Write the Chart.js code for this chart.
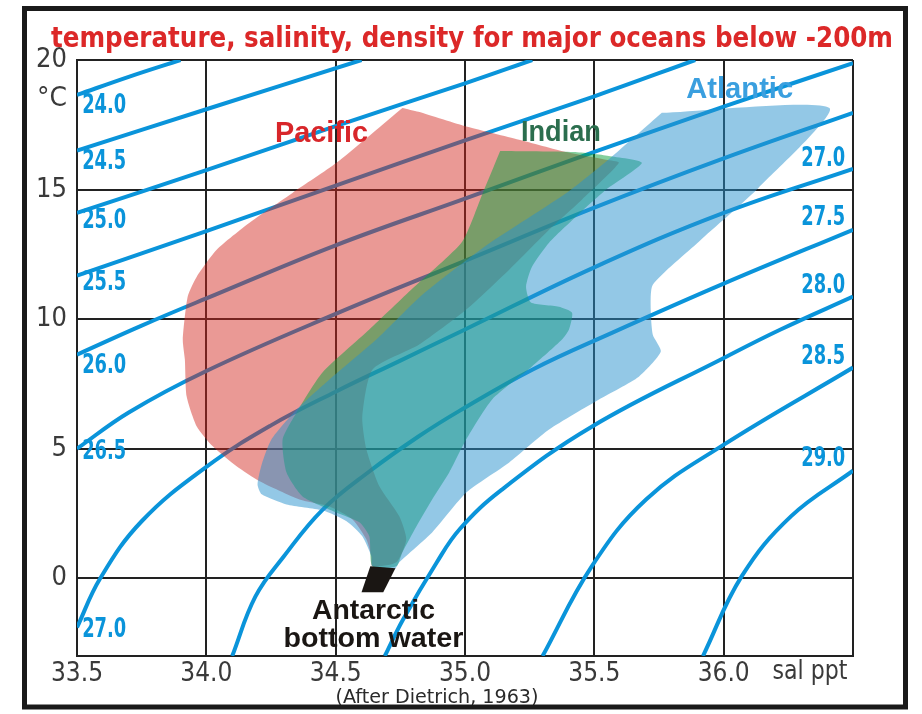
<!DOCTYPE html>
<html>
<head>
<meta charset="utf-8">
<script src="https://cdn.jsdelivr.net/npm/chart.js@4.4.0/dist/chart.umd.min.js"></script>
<style>
  html, body { margin: 0; padding: 0; background: #fff; }
  canvas { display: block; }
</style>
</head>
<body>
<canvas id="tsChart" width="922" height="714"></canvas>
<script>
// axis ticks (salinity ppt, temperature degC)
var salTicks = [33.5, 34.0, 34.5, 35.0, 35.5, 36.0];
var tempTicks = [0, 5, 10, 15, 20];

// isopycnals (sigma-t), [salinity, temperature]
var sig24_0 = [[33.5, 18.65], [33.7, 19.35], [33.9, 20.0]];
var sig24_5 = [[33.5, 16.5], [34.0, 18.1], [34.6, 20.0]];
var sig25_0 = [[33.5, 14.1], [34.0, 15.75], [34.5, 17.45], [35.0, 19.1], [35.26, 20.0]];
var sig25_5 = [[33.5, 11.68], [34.0, 13.4], [34.5, 15.15], [35.0, 16.9], [35.5, 18.6], [35.89, 20.0]];
var sig26_0 = [[33.5, 8.63], [33.75, 9.75], [34.0, 10.8], [34.5, 12.85], [35.0, 14.65], [35.5, 16.45], [36.0, 18.2], [36.5, 19.88]];
var sig26_5 = [[33.5, 5.0], [33.7, 6.4], [34.0, 8.0], [34.5, 10.2], [35.0, 12.25], [35.5, 14.3], [36.0, 16.2], [36.5, 17.96]];
var sig27_0 = [[33.5, -1.9], [33.59, 0], [33.75, 2.2], [34.0, 4.3], [34.25, 5.9], [34.5, 7.2], [34.75, 8.4], [35.0, 9.6], [35.5, 12.0], [36.0, 14.1], [36.5, 15.8]];
var sig27_5 = [[34.1, -3.0], [34.19, -0.7], [34.3, 0.85], [34.45, 2.65], [34.63, 4.12], [34.82, 5.47], [34.98, 6.47], [35.26, 8.05], [35.57, 9.48], [36.0, 11.37], [36.5, 13.45]];
var sig28_0 = [[34.69, -3.0], [34.76, -1.6], [34.89, 0.6], [34.98, 1.9], [35.14, 3.4], [35.49, 5.85], [36.01, 8.55], [36.22, 9.6], [36.5, 10.87]];
var sig28_5 = [[35.3, -3.0], [35.49, 0.46], [35.7, 3.04], [35.99, 5.09], [36.5, 8.13]];
var sig29_0 = [[35.92, -3.0], [36.07, 0.08], [36.26, 2.39], [36.5, 4.15]];

// isopycnal labels
var isoLeftNames = ["24.0", "24.5", "25.0", "25.5", "26.0", "26.5", "27.0"];
var isoLeftT = [18.23, 16.07, 13.76, 11.37, 8.17, 4.86, -2.0];
var isoRightNames = ["27.0", "27.5", "28.0", "28.5", "29.0"];
var isoRightT = [16.18, 13.91, 11.25, 8.52, 4.59];

// ocean water-mass envelopes, [salinity, temperature]
var pacific = [
  [34.758, 18.15], [34.82, 18.0], [35.009, 17.42], [35.209, 16.92], [35.39, 16.45], [35.545, 16.15], [35.595, 16.03],
  [35.452, 14.61], [35.325, 13.45], [35.171, 11.91], [35.005, 10.37], [34.823, 9.02], [34.642, 8.05],
  [34.603, 6.24], [34.619, 4.97], [34.669, 3.55], [34.746, 2.39], [34.773, 1.5], [34.735, 0.62],
  [34.642, 0.46], [34.638, 0.85], [34.619, 1.5], [34.565, 2.27], [34.476, 2.77], [34.36, 3.04],
  [34.206, 3.74], [34.117, 4.32], [34.025, 5.09], [33.963, 5.86], [33.924, 7.01], [33.917, 8.44],
  [33.909, 9.21], [33.928, 10.87], [33.963, 11.64], [34.04, 12.68], [34.167, 13.72], [34.333, 14.87],
  [34.503, 16.03], [34.758, 18.15]
];
var indian = [
  [35.136, 16.49], [35.421, 16.45], [35.556, 16.3], [35.684, 16.03], [35.545, 14.99], [35.429, 13.95],
  [35.325, 12.95], [35.259, 12.02], [35.236, 11.25], [35.255, 10.64], [35.363, 10.48], [35.414, 10.25],
  [35.402, 9.6], [35.375, 9.21], [35.259, 8.17], [35.105, 6.9], [35.005, 5.36], [34.939, 4.08],
  [34.873, 3.04], [34.812, 2.0], [34.758, 1.0], [34.735, 0.46], [34.642, 0.46], [34.63, 1.62],
  [34.592, 2.16], [34.503, 2.54], [34.372, 3.16], [34.31, 4.08], [34.295, 5.36], [34.349, 6.4],
  [34.449, 7.94], [34.63, 9.6], [34.8, 11.21], [34.989, 12.99], [35.066, 14.8], [35.136, 16.49]
];
var atlantic = [
  [35.761, 17.96], [36.409, 18.15], [36.135, 15.07], [35.904, 12.99], [35.726, 11.33], [35.718, 10.37],
  [35.726, 9.4], [35.757, 8.75], [35.672, 7.78], [35.518, 6.9], [35.325, 5.74], [35.171, 4.47],
  [35.005, 3.31], [34.873, 1.77], [34.746, 0.62], [34.727, 0.35], [34.642, 0.46], [34.638, 0.85],
  [34.603, 1.62], [34.542, 2.2], [34.449, 2.62], [34.31, 2.85], [34.214, 3.24], [34.198, 3.62],
  [34.214, 4.39], [34.252, 5.36], [34.349, 6.51], [34.476, 7.67], [34.657, 9.21], [34.835, 10.94],
  [35.086, 12.87], [35.398, 14.91], [35.545, 16.07], [35.761, 17.96]
];
var bottomWater = [[34.634, 0.46], [34.731, 0.39], [34.684, -0.54], [34.6, -0.54]];

// label anchors
var oceanNames = ["Pacific", "Indian", "Atlantic"];
var oceanS = [34.445, 35.371, 36.062];
var oceanT = [17.15, 17.19, 18.84];
var abwLines = ["Antarctic", "bottom water"];
var abwS = 34.646;
var abwT = [-1.27, -2.35];

var narrow = "'Liberation Sans Narrow', 'DejaVu Sans Condensed', 'Liberation Sans', sans-serif";
var wide = "'Liberation Sans', Arial, sans-serif";
var isoBlue = "#0a94da";

function pts(arr) {
    return arr.map(function (p) { return { x: p[0], y: p[1] }; });
}

// draw a text squeezed/stretched to a given width
function fitText(ctx, txt, x, y, w, font, color, align) {
    ctx.save();
    ctx.font = font;
    ctx.fillStyle = color;
    ctx.textBaseline = "middle";
    ctx.textAlign = "left";
    var m = ctx.measureText(txt).width;
    var x0 = align === "left" ? x : (align === "right" ? x - w : x - w / 2);
    ctx.translate(x0, y);
    ctx.scale(w / m, 1);
    ctx.fillText(txt, 0, 0);
    ctx.restore();
}

var datasets = [];
[sig24_0, sig24_5, sig25_0, sig25_5, sig26_0, sig26_5, sig27_0, sig27_5, sig28_0, sig28_5, sig29_0].forEach(function (c) {
    datasets.push({
        data: pts(c),
        borderColor: isoBlue,
        borderWidth: 4,
        pointRadius: 0,
        fill: false,
        tension: 0.4,
        order: 10
    });
});

function shape(arr, color, order, tension) {
    return {
        data: pts(arr),
        backgroundColor: color,
        borderColor: "rgba(0,0,0,0)",
        borderWidth: 0,
        pointRadius: 0,
        tension: tension,
        fill: "shape",
        order: order
    };
}
datasets.push(shape(pacific, "rgba(210,38,30,0.47)", 3, 0.2));
datasets.push(shape(indian, "rgba(12,161,63,0.51)", 2, 0.2));
datasets.push(shape(atlantic, "rgba(39,145,205,0.5)", 1, 0.2));
datasets.push(shape(bottomWater, "#1a1613", 0, 0));

var decor = {
    id: "decor",
    beforeDraw: function (chart) {
        var ctx = chart.ctx;
        ctx.save();
        ctx.fillStyle = "#fff";
        ctx.fillRect(0, 0, chart.width, chart.height);
        ctx.restore();
    },
    afterDatasetsDraw: function (chart) {
        var ctx = chart.ctx;
        var xs = chart.scales.x, ys = chart.scales.y;

        // sigma-t labels
        var isoFont = "bold 26px " + narrow;
        isoLeftNames.forEach(function (t, i) {
            fitText(ctx, t, xs.getPixelForValue(33.52), ys.getPixelForValue(isoLeftT[i]), 44, isoFont, isoBlue, "left");
        });
        isoRightNames.forEach(function (t, i) {
            fitText(ctx, t, xs.getPixelForValue(36.47), ys.getPixelForValue(isoRightT[i]), 44, isoFont, isoBlue, "right");
        });

        // ocean names
        var oceanColors = ["#d8262a", "#2b6e4e", "#3a9fdf"];
        var oceanW = [93, 80, 107];
        oceanNames.forEach(function (t, i) {
            fitText(ctx, t, xs.getPixelForValue(oceanS[i]), ys.getPixelForValue(oceanT[i]), oceanW[i], "bold 29px " + wide, oceanColors[i], "center");
        });
        var abwW = [123, 180];
        abwLines.forEach(function (t, i) {
            fitText(ctx, t, xs.getPixelForValue(abwS), ys.getPixelForValue(abwT[i]), abwW[i], "bold 28px " + wide, "#1a1613", "center");
        });
    },
    afterDraw: function (chart) {
        var ctx = chart.ctx;
        var a = chart.chartArea;

        // title
        fitText(ctx, "temperature, salinity, density for major oceans below -200m", 472, 40, 842, "bold 28px " + narrow, "#dc2828", "center");

        // unit labels
        fitText(ctx, "\u00B0C", a.left - 10, 99, 30, "27px " + narrow, "#3a3a3a", "right");
        fitText(ctx, "sal ppt", 810, a.bottom + 16, 75, "27px " + narrow, "#3a3a3a", "center");
        fitText(ctx, "(After Dietrich, 1963)", 437, 698, 203, "19px " + narrow, "#2a2a2a", "center");

        // outer frame
        ctx.save();
        ctx.strokeStyle = "#1a1a1a";
        ctx.lineWidth = 5;
        ctx.strokeRect(24.5, 8.5, 881, 698.5);
        ctx.restore();
    }
};

var ctx = document.getElementById("tsChart").getContext("2d");
new Chart(ctx, {
    type: "line",
    data: { datasets: datasets },
    options: {
        responsive: false,
        animation: false,
        devicePixelRatio: 1,
        layout: { padding: { top: 60, right: 69, left: 0, bottom: 0 } },
        plugins: {
            legend: { display: false },
            tooltip: { enabled: false },
            title: { display: false }
        },
        scales: {
            x: {
                type: "linear",
                min: 33.5,
                max: 36.5,
                afterBuildTicks: function (axis) {
                    axis.ticks = salTicks.concat([36.5]).map(function (v) { return { value: v }; });
                },
                afterFit: function (axis) { axis.height = 58; },
                grid: { color: "#222", lineWidth: 2, drawTicks: false },
                border: { color: "#222", width: 2 },
                ticks: {
                    padding: 3,
                    color: "#3a3a3a",
                    maxRotation: 0,
                    autoSkip: false,
                    font: { family: narrow, size: 26 },
                    callback: function (v) { return v > 36.2 ? "" : v.toFixed(1); }
                }
            },
            y: {
                type: "linear",
                min: -3,
                max: 20,
                afterBuildTicks: function (axis) {
                    axis.ticks = tempTicks.map(function (v) { return { value: v }; });
                },
                afterFit: function (axis) { axis.width = 77; },
                grid: { color: "#222", lineWidth: 2, drawTicks: false },
                border: { color: "#222", width: 2 },
                ticks: {
                    padding: 10,
                    color: "#3a3a3a",
                    font: { family: narrow, size: 27 }
                }
            }
        }
    },
    plugins: [decor]
});
</script>
</body>
</html>
